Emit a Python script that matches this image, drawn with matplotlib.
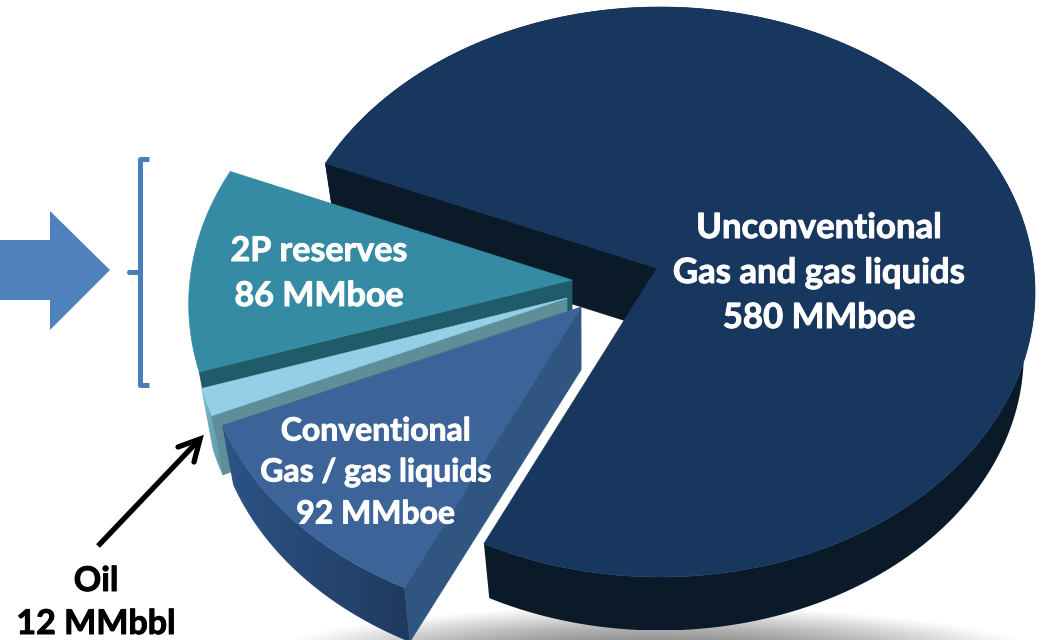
import matplotlib.pyplot as plt
import matplotlib.patheffects as pe
import numpy as np
from matplotlib.patches import Polygon
from matplotlib.colors import to_rgb

plt.rcParams['font.family'] = ['Lato', 'DejaVu Sans']
plt.rcParams['font.weight'] = 'bold'

# data, MMboe (anticlockwise from the gap at the front)
names = ['Unconventional', '2P reserves', 'Oil', 'Conventional']
volumes = [580, 86, 12, 92]
start_angle = 242

# pixel offset and size of each exploded slice
offsets = [(0, 0), (-85, 12), (-90, 30), (-76, 39)]
scales = [1.0, 1.03, 1.01, 1.02]
top_colors = ['#18375f', '#358ba4', '#93cfe5', '#3c6498']
face_colors = ['#0a1a29', '#1f5b69', '#5f8e96', '#2f5580']
wall_left = ['#0a1a29', '#1f5b69', '#74b6ca', '#2d5387']
wall_right = ['#0a1a29', '#1f5b69', '#5f96a5', '#1f3a5e']

big_label = ['Unconventional', 'Gas and gas liquids', '580 MMboe']
teal_label = ['2P reserves', '86 MMboe']
conv_label = ['Conventional', 'Gas / gas liquids', '92 MMboe']
oil_label = ['Oil', '12 MMbbl']

# ellipse of the top surface and of the base
cx, cy, rx, ry = 660, 292, 375, 285
base_scale, base_drop = 0.97, 62
apex = (657, 268)


def rim(t, dx, dy, s, base=False):
    t = np.radians(t)
    if base:
        return np.c_[cx + dx + s * base_scale * rx * np.cos(t),
                     cy + dy + base_drop - s * base_scale * ry * np.sin(t)]
    return np.c_[cx + dx + s * rx * np.cos(t), cy + dy - s * ry * np.sin(t)]


def apex_at(dx, dy, base=False):
    if base:
        return np.array([cx + dx + base_scale * (apex[0] - cx),
                         cy + dy + base_drop + base_scale * (apex[1] - cy)])
    return np.array([apex[0] + dx, apex[1] + dy])


def gradient_wall(ax, pts, left, right, z):
    # horizontal colour ramp clipped to the wall outline
    pts = np.asarray(pts)
    c0, c1 = np.array(to_rgb(left)), np.array(to_rgb(right))
    ramp = np.linspace(0, 1, 256)[None, :, None] * (c1 - c0) + c0
    im = ax.imshow(ramp, extent=(pts[:, 0].min(), pts[:, 0].max(), pts[:, 1].max(), pts[:, 1].min()),
                   aspect='auto', zorder=z)
    im.set_clip_path(Polygon(pts, closed=True, transform=ax.transData))


fig = plt.figure(figsize=(10.43, 6.4), dpi=100)
ax = fig.add_axes([0, 0, 1, 1])
ax.axis('off')

# grey shadow under the pie
xx, yy = np.meshgrid(np.arange(0, 1043), np.arange(600, 640))
d = ((xx - 655) / 397.0) ** 2 + ((yy - 660) / 55.0) ** 2
shade = np.ones(xx.shape + (4,))
shade[..., :3] = 0.5
shade[..., 3] = np.clip(1 - d, 0, 1) ** 1.2
ax.imshow(shade, extent=(0, 1043, 640, 600), aspect='auto', zorder=0)

angles = start_angle + np.r_[0, np.cumsum(volumes)] / sum(volumes) * 360

z = 2
for i in range(len(volumes)):
    t1, t2 = angles[i], angles[i + 1]
    dx, dy = offsets[i]
    ts = np.linspace(t1, t2, 200)
    top = rim(ts, dx, dy, scales[i])
    bot = rim(ts, dx, dy, scales[i], base=True)
    a_top = apex_at(dx, dy)
    a_bot = apex_at(dx, dy, base=True)

    # straight cut face towards the viewer
    face = [a_top, top[-1], bot[-1], a_bot]
    ax.add_patch(Polygon(face, closed=True, fc=face_colors[i], ec=face_colors[i], lw=0.5, zorder=z))

    # outer wall, the 2P one is hidden
    if names[i] != '2P reserves':
        wall = np.vstack([top, bot[::-1]])
        gradient_wall(ax, wall, wall_left[i], wall_right[i], z)

    # top surface
    ax.add_patch(Polygon(np.vstack([a_top, top]), closed=True, fc=top_colors[i], ec=top_colors[i],
                         lw=0.5, zorder=z + 1))
    z += 2

# wedge labels
heavy = [pe.withStroke(linewidth=0.7, foreground='white')]
for txt, y in zip(big_label, [228, 273, 318]):
    ax.text(819, y, txt, color='white', fontsize=25, ha='center', va='center', zorder=20, path_effects=heavy)
for txt, y in zip(teal_label, [251, 296]):
    ax.text(319, y, txt, color='white', fontsize=24.5, ha='center', va='center', zorder=20, path_effects=heavy)
for txt, y in zip(conv_label, [431, 472, 514]):
    ax.text(376, y, txt, color='white', fontsize=23, ha='center', va='center', zorder=20, path_effects=heavy)
for txt, y in zip(oil_label, [581, 624]):
    ax.text(96, y, txt, color='black', fontsize=24.5, ha='center', va='center', zorder=20,
            path_effects=[pe.withStroke(linewidth=0.7, foreground='black')])

# big block arrow at the left
ax.add_patch(Polygon([(0, 240), (50, 240), (50, 211), (110, 270), (50, 330), (50, 300), (0, 300)],
                     closed=True, fc='#4f81bd', ec='none', zorder=5))

# bracket
ax.plot([149, 140, 140, 149], [159, 159, 385, 385], color='#4a7ebb', lw=3.6,
        solid_joinstyle='round', solid_capstyle='butt', zorder=5)
ax.plot([129, 140], [272, 272], color='#4a7ebb', lw=3.6, solid_capstyle='round', zorder=5)

# oil pointer
ax.plot([98, 198], [546, 441], color='black', lw=3.8, solid_capstyle='butt', zorder=15)
ax.plot([178, 200, 194], [447, 439, 462], color='black', lw=3.8, solid_capstyle='round',
        solid_joinstyle='miter', zorder=15)

ax.set_xlim(0, 1043)
ax.set_ylim(640, 0)

fig.savefig('out.png', dpi=100)
